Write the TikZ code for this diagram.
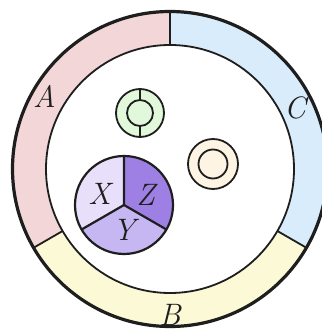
\documentclass[tikz,border=0pt]{standalone}
\usepackage{fontspec}
\definecolor{ringA}{RGB}{242,214,216}
\definecolor{ringB}{RGB}{251,249,214}
\definecolor{ringC}{RGB}{216,236,252}
\definecolor{pieX}{RGB}{232,224,250}
\definecolor{pieY}{RGB}{198,182,242}
\definecolor{pieZ}{RGB}{158,128,228}
\definecolor{symG}{RGB}{226,248,218}
\definecolor{symO}{RGB}{253,244,228}
\definecolor{ink}{RGB}{30,30,30}
\begin{document}
\begin{tikzpicture}[x=1pt,y=1pt,
  lab/.style={font=\fontsize{31}{33}\selectfont\itshape, text=ink, inner sep=0pt},
  thin line/.style={draw=ink, line width=1.8pt},
  mid line/.style={draw=ink, line width=2.2pt}]
\useasboundingbox (0,0) rectangle (322,333);
\clip (0,0) rectangle (322,333);
\fill[white] (0,0) rectangle (322,333);
% ring
\begin{scope}[shift={(170,164)}]
\def\Ro{157.5}
\def\Ri{124}
\fill[ringA] (90:\Ro) arc[start angle=90,end angle=210,radius=\Ro] -- (210:\Ri) arc[start angle=210,end angle=90,radius=\Ri] -- cycle;
\fill[ringB] (210:\Ro) arc[start angle=210,end angle=330,radius=\Ro] -- (330:\Ri) arc[start angle=330,end angle=210,radius=\Ri] -- cycle;
\fill[ringC] (330:\Ro) arc[start angle=330,end angle=450,radius=\Ro] -- (90:\Ri) arc[start angle=90,end angle=-30,radius=\Ri] -- cycle;
\draw[thin line] (90:\Ri) -- (90:\Ro) (210:\Ri) -- (210:\Ro) (330:\Ri) -- (330:\Ro);
\draw[thin line] (0,0) circle (\Ri);
\draw[draw=ink, line width=3.2pt] (0,0) circle (\Ro);
\node[lab] (A) at (150:145) {A};
\node[lab] (B) at (270:146) {B};
\node[lab] (C) at (26:139) {C};
\end{scope}
% pie
\begin{scope}[shift={(124,128)}]
\def\Rp{49}
\fill[pieX] (0,0) -- (90:\Rp) arc[start angle=90,end angle=210,radius=\Rp] -- cycle;
\fill[pieY] (0,0) -- (210:\Rp) arc[start angle=210,end angle=330,radius=\Rp] -- cycle;
\fill[pieZ] (0,0) -- (330:\Rp) arc[start angle=330,end angle=450,radius=\Rp] -- cycle;
\draw[mid line] (0,0) -- (90:\Rp) (0,0) -- (210:\Rp) (0,0) -- (330:\Rp);
\draw[mid line] (0,0) circle (\Rp);
\node[lab] (X) at (155:27) {X};
\node[lab] (Z) at (26:24) {Z};
\node[lab] (Y) at (270:25) {Y};
\end{scope}
% green symbol
\begin{scope}[shift={(140,220)}]
\filldraw[thin line, fill=symG] (0,0) circle (24);
\draw[thin line] (0,0) circle (13);
\draw[thin line] (0,13) -- (0,24) (0,-13) -- (0,-24);
\end{scope}
% orange symbol
\begin{scope}[shift={(213,169)}]
\filldraw[thin line, fill=symO] (0,0) circle (25);
\draw[thin line] (0,0) circle (14.5);
\end{scope}
\end{tikzpicture}
\end{document}
